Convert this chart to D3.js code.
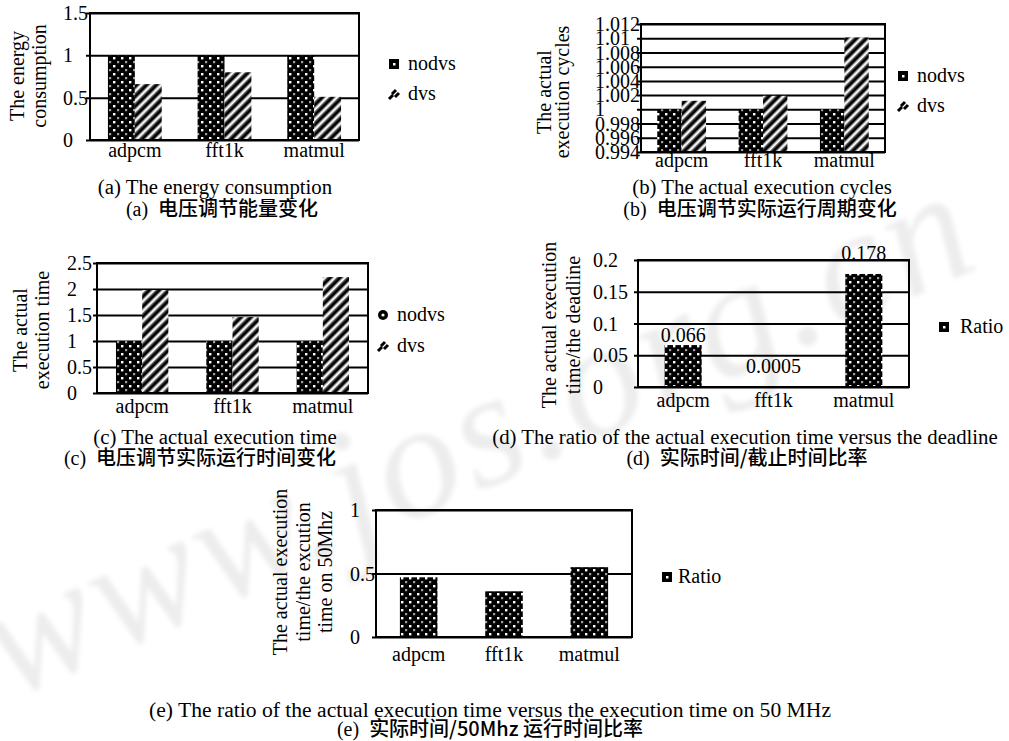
<!DOCTYPE html>
<html>
<head>
<meta charset="utf-8">
<script src="https://cdn.jsdelivr.net/npm/d3@7"></script>
<style>
  body { margin: 0; background: #fff; }
  svg { display: block; }
  svg text { font-family: "Liberation Serif", "Times New Roman", serif; }
  svg text .zh { font-family: "Noto Sans CJK SC", sans-serif; }
</style>
</head>
<body>
<svg id="chart" width="1009" height="741"></svg>
<script>

// benchmarks on the x axis of every panel
const categories = ['adpcm', 'fft1k', 'matmul'];

// (a) energy consumption
const energyNodvs = [1, 1, 1];
const energyDvs = [0.66, 0.80, 0.51];
const energyTicks = [0, 0.5, 1, 1.5];

// (b) actual execution cycles
const cyclesNodvs = [1, 1, 1];
const cyclesDvs = [1.0012, 1.0019, 1.0101];
const cyclesTicks = [0.994, 0.996, 0.998, 1, 1.002, 1.004, 1.006, 1.008, 1.01, 1.012];

// (c) actual execution time
const timeNodvs = [1, 1, 1];
const timeDvs = [1.98, 1.46, 2.23];
const timeTicks = [0, 0.5, 1, 1.5, 2, 2.5];

// (d) execution time / deadline
const deadlineRatio = [0.066, 0.0005, 0.178];
const deadlineLabels = ['0.066', '0.0005', '0.178'];
const deadlineTicks = [0, 0.05, 0.1, 0.15, 0.2];

// (e) execution time / time on 50MHz
const mhzRatio = [0.47, 0.36, 0.55];
const mhzTicks = [0, 0.5, 1];

const svg = d3.select('#chart');
const defs = svg.append('defs');

// --- fills, imitating the black/white print patterns
const dots = defs.append('pattern')
    .attr('id', 'dots').attr('patternUnits', 'userSpaceOnUse')
    .attr('width', 8).attr('height', 8);
dots.append('rect').attr('width', 8).attr('height', 8).attr('fill', '#000');
dots.append('rect').attr('x', 1).attr('y', 1).attr('width', 2.4).attr('height', 2.4).attr('fill', '#fff');
dots.append('rect').attr('x', 5).attr('y', 5).attr('width', 2.2).attr('height', 2.2).attr('fill', '#a0a0a0');

const stripes = defs.append('pattern')
    .attr('id', 'stripes').attr('patternUnits', 'userSpaceOnUse')
    .attr('width', 7).attr('height', 7)
    .attr('patternTransform', 'rotate(45)');
stripes.append('rect').attr('width', 7).attr('height', 7).attr('fill', '#fff');
stripes.append('rect').attr('x', 0).attr('width', 1.2).attr('height', 7).attr('fill', '#777');
stripes.append('rect').attr('x', 1.2).attr('width', 2.8).attr('height', 7).attr('fill', '#000');
stripes.append('rect').attr('x', 4).attr('width', 1.2).attr('height', 7).attr('fill', '#777');

defs.append('filter').attr('id', 'soft')
    .append('feGaussianBlur').attr('stdDeviation', 2.5);

// faint site watermark behind the charts
svg.append('text')
    .attr('transform', 'translate(10,700) rotate(-24)')
    .attr('font-style', 'italic')
    .attr('font-size', 165).attr('letter-spacing', 4)
    .attr('fill', '#000').attr('opacity', 0.07)
    .attr('filter', 'url(#soft)')
    .text('www.jos.org.cn');

const fmt = v => String(+v.toFixed(4));

function barPanel(p) {
    const g = svg.append('g');

    const x = d3.scaleBand().domain(categories).range([p.left, p.right]);
    const y = d3.scaleLinear().domain([p.ticks[0], p.ticks[p.ticks.length - 1]]).range([p.bottom, p.top]);
    const groupW = x.bandwidth() * p.groupFrac;
    const sub = d3.scaleBand().domain(p.series.map(s => s.name)).range([0, groupW]);

    // y axis -> grid lines + left aligned labels
    const ya = g.append('g')
        .attr('transform', `translate(${p.left},0)`)
        .call(d3.axisLeft(y).tickValues(p.ticks).tickFormat(fmt)
            .tickSizeInner(-(p.right - p.left)).tickSizeOuter(0));
    ya.select('.domain').remove();
    ya.attr('font-family', null).attr('font-size', 20);
    ya.selectAll('.tick line').attr('x1', -4).attr('stroke', '#000').attr('stroke-width', 2);
    ya.selectAll('.tick text')
        .attr('x', p.tickX - p.left).attr('text-anchor', 'start').attr('dy', '0.33em');

    // bars
    p.series.forEach(s => {
        g.append('g').selectAll('rect')
            .data(s.values)
            .join('rect')
            .attr('x', (d, i) => x(categories[i]) + (x.bandwidth() - groupW) / 2 + sub(s.name))
            .attr('width', sub.bandwidth())
            .attr('y', d => y(d))
            .attr('height', d => y(p.ticks[0]) - y(d))
            .attr('fill', `url(#${s.fill})`);
    });

    // plot frame
    g.append('rect')
        .attr('x', p.left).attr('y', p.top)
        .attr('width', p.right - p.left).attr('height', p.bottom - p.top)
        .attr('fill', 'none').attr('stroke', '#000').attr('stroke-width', 2);

    // category labels
    const xa = g.append('g')
        .attr('transform', `translate(0,${p.bottom})`)
        .call(d3.axisBottom(x).tickSize(0).tickPadding(0));
    xa.select('.domain').remove();
    xa.attr('font-family', null).attr('font-size', 20);
    xa.selectAll('.tick text').attr('dy', null).attr('y', p.xLabelDy);

    // value labels (panel d)
    if (p.valueLabels) {
        const s = p.series[0];
        g.append('g').selectAll('text')
            .data(s.values)
            .join('text')
            .attr('x', (d, i) => x(categories[i]) + x.bandwidth() / 2)
            .attr('y', (d, i) => y(d) - (i === 0 ? 3 : 14))
            .attr('text-anchor', 'middle')
            .attr('font-size', 20)
            .text((d, i) => p.valueLabels[i]);
    }

    // rotated y title
    p.ylabel.forEach((line, i) => {
        g.append('text')
            .attr('transform', `translate(${p.ylabelX[i]},${p.ylabelY}) rotate(-90)`)
            .attr('text-anchor', 'middle')
            .attr('font-size', 20)
            .text(line);
    });

    // legend
    p.series.forEach((s, i) => {
        const ly = p.legend.y + i * p.legend.gap;
        if (p.legend.round && s.fill === 'dots') {
            g.append('circle').attr('cx', p.legend.x + 5).attr('cy', ly - 6).attr('r', 5).attr('fill', '#000');
            g.append('circle').attr('cx', p.legend.x + 5).attr('cy', ly - 6).attr('r', 1.6).attr('fill', '#fff');
        } else if (s.fill === 'dots') {
            g.append('rect').attr('x', p.legend.x).attr('y', ly - 11).attr('width', 10).attr('height', 10).attr('fill', '#000');
            g.append('rect').attr('x', p.legend.x + 4).attr('y', ly - 7).attr('width', 2.5).attr('height', 2.5).attr('fill', '#fff');
        } else {
            g.append('path')
                .attr('d', `M${p.legend.x},${ly - 1} l4,-4 M${p.legend.x + 3},${ly - 6} l4,-4 M${p.legend.x + 6},${ly - 3} l4,-4`)
                .attr('stroke', '#000').attr('stroke-width', 3).attr('fill', 'none');
        }
        g.append('text')
            .attr('x', p.legend.x + p.legend.textDx).attr('y', ly)
            .attr('font-size', 20)
            .text(s.name);
    });
}

function caption(en, zhTag, zh, cxEn, yEn, cxZh, yZh, enSize) {
    svg.append('text')
        .attr('x', cxEn).attr('y', yEn).attr('text-anchor', 'middle')
        .attr('font-size', enSize || 20.8)
        .text(en);
    const t = svg.append('text')
        .attr('x', cxZh).attr('y', yZh).attr('text-anchor', 'middle')
        .attr('font-size', 20);
    t.append('tspan').text(zhTag + '\u00a0\u00a0');
    t.append('tspan').attr('class', 'zh').attr('font-weight', 500).text(zh);
}

barPanel({
    left: 90, right: 359, top: 13, bottom: 140, tickX: 63,
    ticks: energyTicks, groupFrac: 0.6, xLabelDy: 17,
    series: [{ name: 'nodvs', values: energyNodvs, fill: 'dots' },
             { name: 'dvs', values: energyDvs, fill: 'stripes' }],
    ylabel: ['The energy', 'consumption'], ylabelX: [24, 46], ylabelY: 76,
    legend: { x: 389, y: 70, gap: 30, textDx: 19 }
});

barPanel({
    left: 641, right: 885, top: 24, bottom: 152, tickX: 595,
    ticks: cyclesTicks, groupFrac: 0.6, xLabelDy: 15,
    series: [{ name: 'nodvs', values: cyclesNodvs, fill: 'dots' },
             { name: 'dvs', values: cyclesDvs, fill: 'stripes' }],
    ylabel: ['The actual', 'execution cycles'], ylabelX: [551, 569], ylabelY: 92,
    legend: { x: 898, y: 82, gap: 30, textDx: 19 }
});

barPanel({
    left: 97, right: 368, top: 263, bottom: 393, tickX: 67,
    ticks: timeTicks, groupFrac: 0.58, xLabelDy: 20,
    series: [{ name: 'nodvs', values: timeNodvs, fill: 'dots' },
             { name: 'dvs', values: timeDvs, fill: 'stripes' }],
    ylabel: ['The actual', 'execution time'], ylabelX: [27, 49], ylabelY: 330,
    legend: { x: 378, y: 321, gap: 31, textDx: 19, round: true }
});

barPanel({
    left: 638, right: 909, top: 260, bottom: 387, tickX: 593,
    ticks: deadlineTicks, groupFrac: 0.41, xLabelDy: 20,
    series: [{ name: 'Ratio', values: deadlineRatio, fill: 'dots' }],
    valueLabels: deadlineLabels,
    ylabel: ['The actual execution', 'time/the deadline'], ylabelX: [556, 580], ylabelY: 325,
    legend: { x: 939, y: 333, gap: 30, textDx: 21 }
});

barPanel({
    left: 376, right: 632, top: 510, bottom: 637, tickX: 350,
    ticks: mhzTicks, groupFrac: 0.44, xLabelDy: 24,
    series: [{ name: 'Ratio', values: mhzRatio, fill: 'dots' }],
    ylabel: ['The actual execution', 'time/the excution', 'time on 50Mhz'],
    ylabelX: [287, 310, 332], ylabelY: 572,
    legend: { x: 662, y: 583, gap: 30, textDx: 16 }
});

caption('(a) The energy consumption', '(a)', '电压调节能量变化', 215, 194, 222, 216);
caption('(b) The actual execution cycles', '(b)', '电压调节实际运行周期变化', 762, 194, 760, 216);
caption('(c) The actual execution time', '(c)', '电压调节实际运行时间变化', 215, 444, 200, 465);
caption('(d) The ratio of the actual execution time versus the deadline', '(d)', '实际时间/截止时间比率', 745, 444, 747, 465);
caption('(e) The ratio of the actual execution time versus the execution time on 50 MHz', '(e)', '实际时间/50Mhz 运行时间比率', 490, 717, 490, 736, 21.6);

</script>
</body>
</html>
